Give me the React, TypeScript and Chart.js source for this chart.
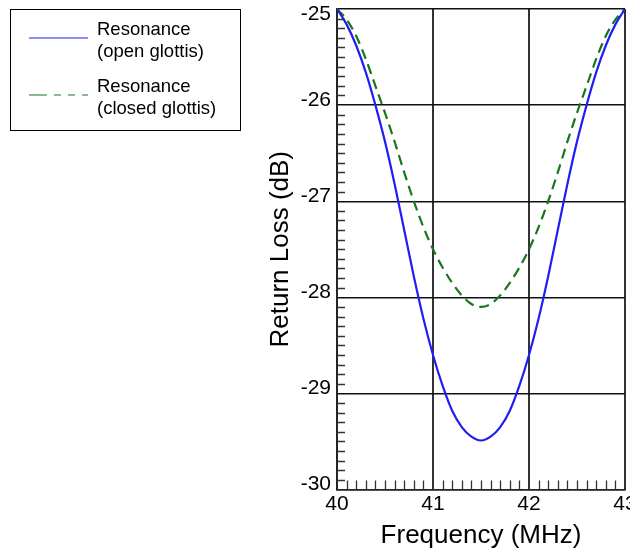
import { useEffect, useRef } from "react"
import { Chart, registerables, type ChartConfiguration, type Plugin } from "chart.js"

Chart.register(...registerables)

const FONT = "'Liberation Sans', Arial, Helvetica, sans-serif"

// frequency samples (MHz)
const freqs = [
  40.0, 40.1, 40.2, 40.3, 40.4, 40.5, 40.6, 40.7, 40.8, 40.9,
  41.0, 41.1, 41.2, 41.3, 41.4, 41.5, 41.6, 41.7, 41.8, 41.9,
  42.0, 42.1, 42.2, 42.3, 42.4, 42.5, 42.6, 42.7, 42.8, 42.9, 43.0,
]

// return loss (dB), open glottis
const openGlottis = [
  -25.0, -25.16, -25.38, -25.66, -26.0, -26.38, -26.82, -27.3, -27.78, -28.22,
  -28.6, -28.92, -29.18, -29.35, -29.45, -29.49, -29.45, -29.35, -29.18, -28.92,
  -28.6, -28.22, -27.78, -27.3, -26.82, -26.38, -26.0, -25.66, -25.38, -25.16, -25.0,
]

// return loss (dB), closed glottis
const closedGlottis = [
  -25.0, -25.11, -25.28, -25.52, -25.8, -26.08, -26.38, -26.7, -27.0, -27.27,
  -27.5, -27.69, -27.85, -27.98, -28.07, -28.1, -28.07, -27.98, -27.85, -27.69,
  -27.5, -27.27, -27.0, -26.7, -26.38, -26.08, -25.8, -25.52, -25.28, -25.11, -25.0,
]

const seriesLabels = [
  ["Resonance", "(open glottis)"],
  ["Resonance", "(closed glottis)"],
]

const xTicks = [40, 41, 42, 43]
const yTicks = [-30, -29, -28, -27, -26, -25]

// small inward ticks every 0.1 on the left and bottom axes
const minorTicks: Plugin = {
  id: "minorTicks",
  afterDatasetsDraw(chart) {
    const { ctx, chartArea } = chart
    const x = chart.scales.x
    const y = chart.scales.y
    ctx.save()
    ctx.strokeStyle = "#333"
    ctx.lineWidth = 1.3
    ctx.beginPath()
    for (let i = 1; i < (xTicks[xTicks.length - 1] - xTicks[0]) * 10; i++) {
      if (i % 10 === 0) continue
      const px = Math.round(x.getPixelForValue(xTicks[0] + i / 10)) + 0.5
      ctx.moveTo(px, chartArea.bottom)
      ctx.lineTo(px, chartArea.bottom - 9)
    }
    for (let i = 1; i < (yTicks[yTicks.length - 1] - yTicks[0]) * 10; i++) {
      if (i % 10 === 0) continue
      const py = Math.round(y.getPixelForValue(yTicks[0] + i / 10)) + 0.5
      ctx.moveTo(chartArea.left, py)
      ctx.lineTo(chartArea.left + 8, py)
    }
    ctx.stroke()
    ctx.restore()
  },
}

// boxed legend in the top left corner
const boxLegend: Plugin = {
  id: "boxLegend",
  afterDraw(chart) {
    const { ctx } = chart
    ctx.save()
    ctx.strokeStyle = "#000"
    ctx.lineWidth = 1
    ctx.strokeRect(10.5, 9.5, 230, 121)
    ctx.font = `18.5px ${FONT}`
    ctx.fillStyle = "#000"
    ctx.textBaseline = "middle"
    chart.data.datasets.forEach((ds: any, i) => {
      const top = 30 + i * 57
      ctx.strokeStyle = ds.borderColor
      ctx.lineWidth = 1.2
      ctx.setLineDash(ds.borderDash ? [18, 7, 7, 7, 7, 7, 7] : [])
      ctx.beginPath()
      ctx.moveTo(29, top + 8)
      ctx.lineTo(88, top + 8)
      ctx.stroke()
      ctx.setLineDash([])
      seriesLabels[i].forEach((line, j) => {
        ctx.fillText(line, 97, top + j * 21.7)
      })
    })
    ctx.restore()
  },
}

export default function App() {
  const canvasRef = useRef<HTMLCanvasElement>(null)
  const chartRef = useRef<Chart | null>(null)

  useEffect(() => {
    if (!canvasRef.current) return
    if (chartRef.current) chartRef.current.destroy()

    Chart.defaults.font.family = FONT
    Chart.defaults.color = "#000"

    const config: ChartConfiguration<"line"> = {
      type: "line",
      data: {
        datasets: [
          {
            label: seriesLabels[0].join(" "),
            data: freqs.map((f, i) => ({ x: f, y: openGlottis[i] })),
            borderColor: "#1f1ff5",
            borderWidth: 2.2,
            pointRadius: 0,
            cubicInterpolationMode: "monotone",
            fill: false,
          },
          {
            label: seriesLabels[1].join(" "),
            data: freqs.map((f, i) => ({ x: f, y: closedGlottis[i] })),
            borderColor: "#1a761a",
            borderWidth: 2.2,
            borderDash: [10, 6],
            pointRadius: 0,
            cubicInterpolationMode: "monotone",
            fill: false,
          },
        ],
      },
      options: {
        responsive: true,
        maintainAspectRatio: false,
        animation: false,
        layout: { padding: { left: 261, right: 5, top: 9, bottom: 0 } },
        plugins: {
          legend: { display: false },
          tooltip: { enabled: false },
        },
        scales: {
          x: {
            type: "linear",
            min: xTicks[0],
            max: xTicks[xTicks.length - 1],
            afterBuildTicks: (s) => {
              s.ticks = xTicks.map((v) => ({ value: v }))
            },
            ticks: {
              padding: 2,
              maxRotation: 0,
              autoSkip: false,
              color: "#000",
              font: { size: 21 },
              callback: (v) => String(v),
            },
            grid: { color: "#333", lineWidth: 2, drawTicks: false },
            border: { display: true, color: "#222", width: 1.5 },
            title: {
              display: true,
              text: "Frequency (MHz)",
              color: "#000",
              font: { size: 26 },
              padding: { top: 4, bottom: 1 },
            },
            afterFit: (s) => {
              s.height = 62.5
              s.paddingLeft = 0
              s.paddingRight = 0
            },
          },
          y: {
            type: "linear",
            min: yTicks[0],
            max: yTicks[yTicks.length - 1],
            afterBuildTicks: (s) => {
              s.ticks = yTicks.map((v) => ({ value: v }))
            },
            ticks: {
              padding: 6,
              labelOffset: -5,
              autoSkip: false,
              color: "#000",
              font: (c: any) => ({
                size: 21,
                lineHeight: c.tick && c.tick.value === yTicks[yTicks.length - 1] ? "20px" : 1.2,
              }),
              callback: (v) => (v === yTicks[yTicks.length - 1] ? ["", String(v)] : String(v)),
            },
            grid: { color: "#111", lineWidth: 1.4, drawTicks: false },
            border: { display: true, color: "#222", width: 1.5 },
            title: {
              display: true,
              text: "Return Loss (dB)",
              color: "#000",
              font: { size: 26 },
              padding: { top: 4, bottom: 4 },
            },
            afterFit: (s) => {
              s.width = 76
              s.paddingTop = 0
              s.paddingBottom = 0
            },
          },
        },
      },
      plugins: [minorTicks, boxLegend],
    }

    chartRef.current = new Chart(canvasRef.current, config)

    return () => {
      if (chartRef.current) {
        chartRef.current.destroy()
        chartRef.current = null
      }
    }
  }, [])

  return (
    <div style={{ position: "absolute", left: 0, top: 0, width: 630, height: 552, background: "#fff" }}>
      <canvas ref={canvasRef} />
    </div>
  )
}
